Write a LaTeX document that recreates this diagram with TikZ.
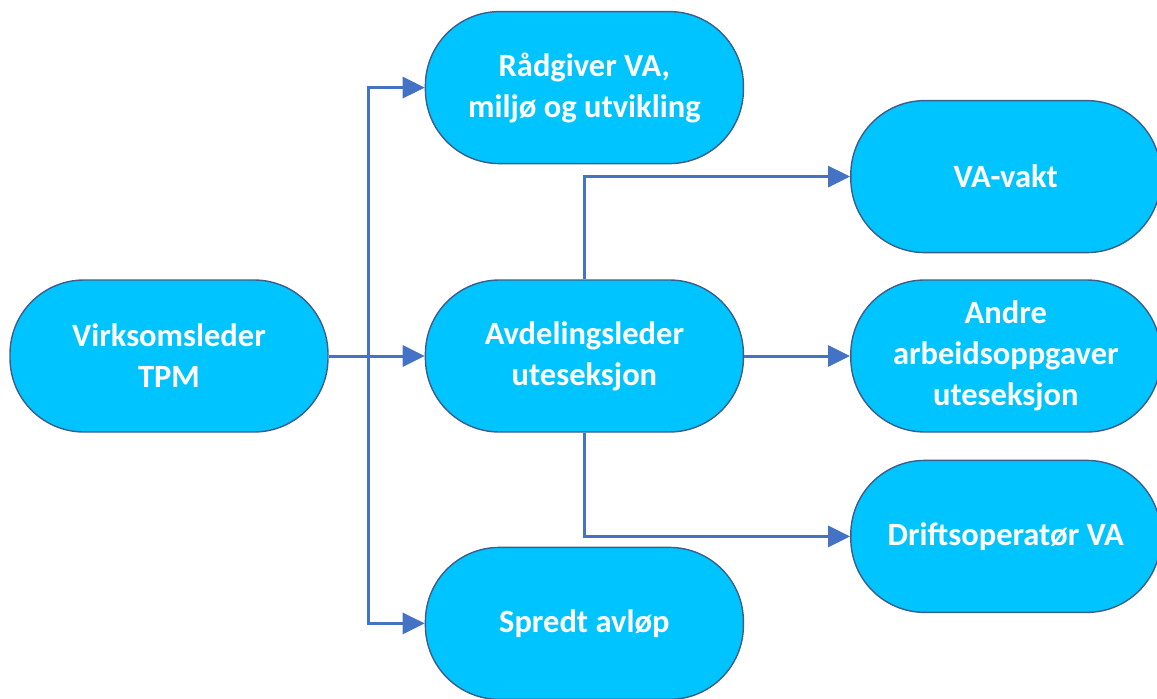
\documentclass[tikz,border=0pt]{standalone}
\usepackage{fontspec}
\setmainfont{Carlito}
\usetikzlibrary{arrows.meta,positioning}
\definecolor{BoxCyan}{HTML}{00C4FF}
\definecolor{EdgeBlue}{HTML}{3B5E8C}
\definecolor{LinkBlue}{HTML}{4472C4}

\begin{document}
\begin{tikzpicture}[
    x=1pt, y=1pt,
    font=\fontsize{32.5}{41}\selectfont\bfseries,
    role/.style={draw=EdgeBlue, line width=1.4pt, fill=BoxCyan, text=white, rounded corners=74pt, align=center, minimum width=318pt, minimum height=152pt, inner sep=0pt},
    sub/.style={role, minimum width=310pt},
    arr/.style={-{Triangle[length=22pt, width=21pt]}, line width=3pt, draw=LinkBlue}
]
\useasboundingbox (0,0) rectangle (1157,-699);

% nodene
\node[role] (virk) at (169,-356) {Virksomsleder\\TPM};
\node[role, right=96pt of virk] (avd) {Avdelingsleder\\uteseksjon};
\node[role, above=115pt of avd] (rad) {Rådgiver VA,\\miljø og utvikling};
\node[role, below=114pt of avd] (spr) {Spredt avløp};
\node[sub, right=106pt of avd] (andre) {Andre\\arbeidsoppgaver\\uteseksjon};
\node[sub, above=26pt of andre] (vakt) {VA-vakt};
\node[sub, below=27pt of andre] (drift) {Driftsoperatør VA};

% forbindelser fra virksomsleder
\coordinate[right=40pt of virk.east] (trunk);
\draw[arr] (virk.east) -- (avd.west);
\draw[arr] (trunk) |- (rad.west);
\draw[arr] (trunk) |- (spr.west);

% forbindelser fra avdelingsleder
\draw[arr] (avd.north) |- (vakt.west);
\draw[arr] (avd.east) -- (andre.west);
\draw[arr] (avd.south) |- (drift.west);
\end{tikzpicture}
\end{document}
